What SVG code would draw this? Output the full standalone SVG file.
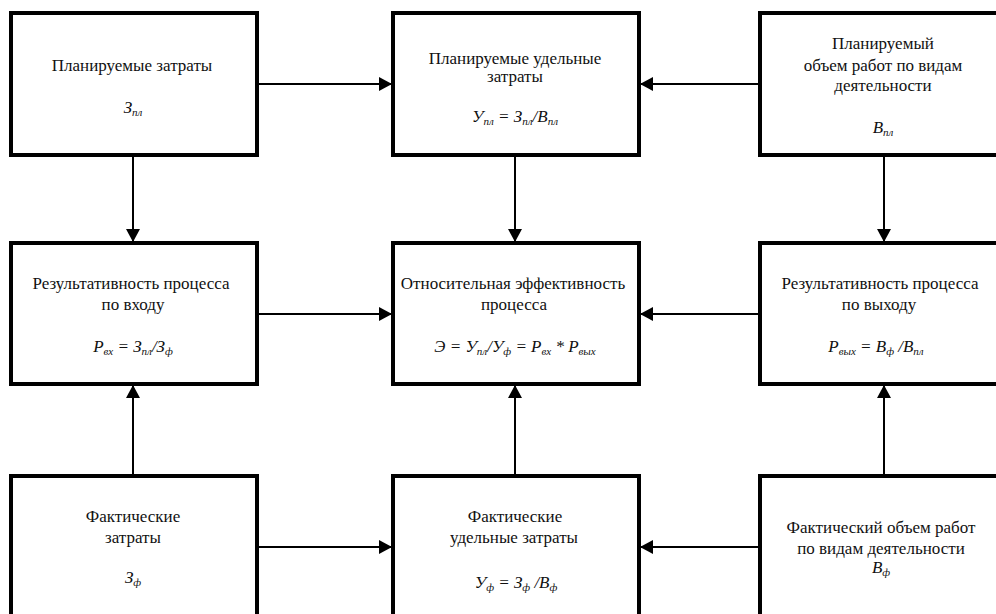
<svg xmlns="http://www.w3.org/2000/svg" width="996" height="614" viewBox="0 0 996 614">
<defs>
<marker id="ah" markerUnits="userSpaceOnUse" markerWidth="14" markerHeight="14" refX="13" refY="7" orient="auto">
<path d="M0,0 L13,7 L0,14 z" fill="#000"/>
</marker>
<style>
.box{fill:#fff;stroke:#000;stroke-width:4}
text{font-family:'Liberation Serif','Times New Roman',serif;font-size:17px;fill:#111;text-anchor:middle}
.f{font-style:italic}
.s{font-size:11px}
.c{stroke:#000;stroke-width:2;fill:none;marker-end:url(#ah)}
</style>
</defs>
<rect width="996" height="614" fill="#fff"/>
<g id="connectors">
<line class="c" x1="257" y1="84" x2="392" y2="84"/>
<line class="c" x1="760" y1="84" x2="640" y2="84"/>
<line class="c" x1="133" y1="155" x2="133" y2="242"/>
<line class="c" x1="515" y1="155" x2="515" y2="242"/>
<line class="c" x1="884" y1="155" x2="884" y2="242"/>
<line class="c" x1="257" y1="314" x2="392" y2="314"/>
<line class="c" x1="760" y1="314" x2="640" y2="314"/>
<line class="c" x1="133" y1="476" x2="133" y2="385"/>
<line class="c" x1="515" y1="476" x2="515" y2="385"/>
<line class="c" x1="884" y1="476" x2="884" y2="385"/>
<line class="c" x1="257" y1="547" x2="392" y2="547"/>
<line class="c" x1="760" y1="547" x2="640" y2="547"/>
</g>
<g id="n1">
<rect class="box" x="11" y="13" width="246" height="142"/>
<text x="132" y="71">Планируемые затраты</text>
<text class="f" x="133" y="113">З<tspan class="s" dy="3">пл</tspan></text>
</g>
<g id="n2">
<rect class="box" x="393" y="13" width="246" height="142"/>
<text x="515" y="64">Планируемые удельные</text>
<text x="515" y="82">затраты</text>
<text class="f" x="515" y="122">У<tspan class="s" dy="3">пл</tspan><tspan dy="-3"> = З</tspan><tspan class="s" dy="3">пл</tspan><tspan dy="-3">/В</tspan><tspan class="s" dy="3">пл</tspan></text>
</g>
<g id="n3">
<rect class="box" x="760" y="13" width="250" height="142"/>
<text x="883" y="49">Планируемый</text>
<text x="883" y="71">объем работ по видам</text>
<text x="883" y="91">деятельности</text>
<text class="f" x="883" y="133">В<tspan class="s" dy="3">пл</tspan></text>
</g>
<g id="n4">
<rect class="box" x="11" y="243" width="246" height="141"/>
<text x="131" y="289">Результативность процесса</text>
<text x="133" y="310">по входу</text>
<text class="f" x="133" y="352">Р<tspan class="s" dy="3">вх</tspan><tspan dy="-3"> = З</tspan><tspan class="s" dy="3">пл</tspan><tspan dy="-3">/З</tspan><tspan class="s" dy="3">ф</tspan></text>
</g>
<g id="n5">
<rect class="box" x="393" y="243" width="246" height="141"/>
<text x="513" y="289">Относительная эффективность</text>
<text x="514" y="310">процесса</text>
<text class="f" x="515" y="352">Э = У<tspan class="s" dy="3">пл</tspan><tspan dy="-3">/У</tspan><tspan class="s" dy="3">ф</tspan><tspan dy="-3"> = Р</tspan><tspan class="s" dy="3">вх</tspan><tspan dy="-3"> * Р</tspan><tspan class="s" dy="3">вых</tspan></text>
</g>
<g id="n6">
<rect class="box" x="760" y="243" width="250" height="141"/>
<text x="880" y="289">Результативность процесса</text>
<text x="879" y="310">по выходу</text>
<text class="f" x="876" y="352">Р<tspan class="s" dy="3">вых</tspan><tspan dy="-3"> = В</tspan><tspan class="s" dy="3">ф</tspan><tspan dy="-3"> /В</tspan><tspan class="s" dy="3">пл</tspan></text>
</g>
<g id="n7">
<rect class="box" x="11" y="476" width="246" height="150"/>
<text x="133" y="522">Фактические</text>
<text x="133" y="543">затраты</text>
<text class="f" x="133" y="583">З<tspan class="s" dy="3">ф</tspan></text>
</g>
<g id="n8">
<rect class="box" x="393" y="476" width="246" height="150"/>
<text x="515" y="522">Фактические</text>
<text x="514" y="543">удельные затраты</text>
<text class="f" x="516" y="588">У<tspan class="s" dy="3">ф</tspan><tspan dy="-3"> = З</tspan><tspan class="s" dy="3">ф</tspan><tspan dy="-3"> /В</tspan><tspan class="s" dy="3">ф</tspan></text>
</g>
<g id="n9">
<rect class="box" x="760" y="476" width="250" height="150"/>
<text x="881" y="533">Фактический объем работ</text>
<text x="881" y="554">по видам деятельности</text>
<text class="f" x="881" y="573">В<tspan class="s" dy="3">ф</tspan></text>
</g>
</svg>
